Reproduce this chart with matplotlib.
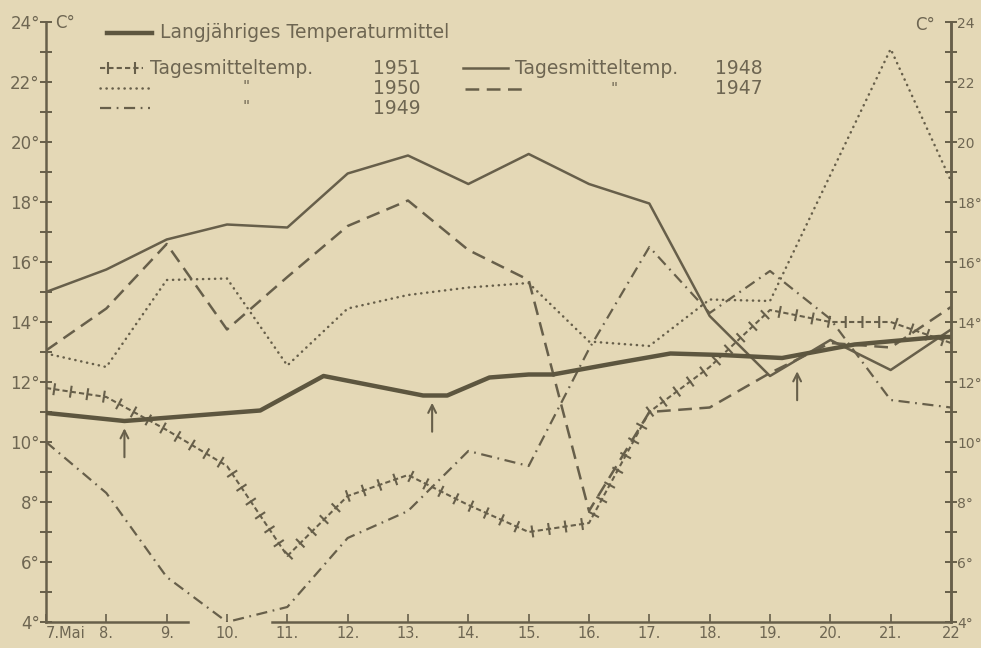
import matplotlib.pyplot as plt
import matplotlib.patheffects as pe
from matplotlib.lines import Line2D

# Tagesmitteltemperaturen 7. - 22. Mai
days = list(range(7, 23))
day_labels = ["7.Mai", "8.", "9.", "10.", "11.", "12.", "13.", "14.", "15.",
              "16.", "17.", "18.", "19.", "20.", "21.", "22"]

temp_1951 = [11.8, 11.5, 10.4, 9.2, 6.2, 8.2, 8.9, 7.9, 7.0, 7.3, 11.0, 12.5, 14.4, 14.0, 14.0, 13.3]
temp_1950 = [12.95, 12.5, 15.4, 15.45, 12.55, 14.45, 14.9, 15.15, 15.3, 13.35, 13.2, 14.75, 14.7, 18.9, 23.1, 18.7]
temp_1949 = [10.0, 8.3, 5.5, 4.0, 4.5, 6.8, 7.7, 9.7, 9.2, 13.1, 16.5, 14.3, 15.7, 14.1, 11.4, 11.15]
temp_1948 = [15.0, 15.75, 16.75, 17.25, 17.15, 18.95, 19.55, 18.6, 19.6, 18.6, 17.95, 14.2, 12.2, 13.4, 12.4, 13.75]
temp_1947 = [13.05, 14.45, 16.6, 13.75, 15.5, 17.2, 18.05, 16.4, 15.4, 7.7, 11.0, 11.15, 12.3, 13.3, 13.15, 14.5]

# long-term mean, read at its own break points
mean_days = [7.0, 8.3, 10.55, 11.6, 13.25, 13.65, 14.35, 15.0, 15.4, 16.5, 17.35, 18.2, 19.2, 20.4, 21.8, 22.0]
mean_temp = [10.97, 10.7, 11.05, 12.2, 11.55, 11.55, 12.15, 12.25, 12.25, 12.65, 12.95, 12.9, 12.8, 13.25, 13.5, 13.5]

# arrows below the mean curve
arrow_days = [8.3, 13.4, 19.45]
arrow_tips = [10.55, 11.4, 12.45]

paper = "#e4d8b6"
ink = "#675f4a"
text_ink = "#6e6652"

plt.rcParams["font.family"] = ["DejaVu Sans"]

fig = plt.figure(figsize=(9.81, 6.48), dpi=100)
fig.patch.set_facecolor(paper)
ax = fig.add_axes([46 / 981, 1 - 622 / 648, 905 / 981, 600 / 648])
ax.set_facecolor(paper)

# "+++" line: ticks on both sides of a dotted line give little crosses
solid = {"dash_offset": 0, "dash_list": None}
cross = [pe.TickedStroke(spacing=12, angle=90, length=0.36, linewidth=1.5, dashes=solid),
         pe.TickedStroke(spacing=12, angle=-90, length=0.36, linewidth=1.5, dashes=solid),
         pe.Normal()]

ax.plot(mean_days, mean_temp, color="#5d563f", lw=3.2, solid_joinstyle="round", zorder=5)
ax.plot(days, temp_1948, color=ink, lw=1.8)
ax.plot(days, temp_1947, color=ink, lw=1.8, ls=(0, (5.5, 3)))
ax.plot(days, temp_1950, color=ink, lw=1.8, ls=(0, (0.1, 2.3)), dash_capstyle="round")
ax.plot(days, temp_1949, color=ink, lw=1.6, ls=(0, (5, 2.5, 0.8, 2.5)))
ax.plot(days, temp_1951, color=ink, lw=1.5, ls=(0, (2.5, 1.5)), path_effects=cross)

for d, t in zip(arrow_days, arrow_tips):
    ax.annotate("", xy=(d, t), xytext=(d, t - 1.15),
                arrowprops=dict(arrowstyle="->", color=ink, lw=1.5, mutation_scale=14))

ax.set_xlim(7, 22)
ax.set_ylim(4, 24)

# axes in the hand-drawn style
for side in ["top", "bottom"]:
    ax.spines[side].set_visible(False)
for side in ["left", "right"]:
    ax.spines[side].set_color(ink)
    ax.spines[side].set_linewidth(1.8)
ax.axhline(4, xmin=0, xmax=(9.35 - 7) / 15, color=ink, lw=1.8, clip_on=False)
ax.axhline(4, xmin=(10.75 - 7) / 15, xmax=1, color=ink, lw=1.8, clip_on=False)

ax.set_xticks(days)
ax.set_xticklabels(day_labels)
ax.tick_params(axis="x", direction="in", length=6, width=1.2, color=ink,
               labelsize=10.5, labelcolor=text_ink, pad=3)
first = ax.get_xticklabels()[0]
first.set_ha("left")

ax.set_yticks(range(4, 25, 2))
ax.set_yticks(range(5, 24, 2), minor=True)
ax.set_yticklabels([f"{v}°" for v in range(4, 25, 2)])
ax.tick_params(axis="y", which="both", direction="inout", length=9, width=1.4,
               color=ink, labelsize=12, labelcolor=text_ink, pad=0)

ax2 = ax.twinx()
ax2.set_ylim(4, 24)
for side in ["top", "bottom", "left"]:
    ax2.spines[side].set_visible(False)
ax2.spines["right"].set_color(ink)
ax2.spines["right"].set_linewidth(1.8)
ax2.set_yticks(range(4, 25, 2))
ax2.set_yticks(range(5, 24, 2), minor=True)
ax2.set_yticklabels([f"{v}" if v >= 20 else f"{v}°" for v in range(4, 25, 2)])
ax2.tick_params(axis="y", which="both", direction="inout", length=9, width=1.4,
                color=ink, labelsize=10, labelcolor=text_ink, pad=0)

# legend and unit labels drawn in pixel coordinates
lg = fig.add_axes([0, 0, 1, 1], facecolor="none")
lg.set_xlim(0, 981)
lg.set_ylim(648, 0)
lg.axis("off")

fs = 13.5
lg.text(55, 23, "C°", fontsize=12, color=text_ink, va="center")
lg.text(915, 25, "C°", fontsize=12, color=text_ink, va="center")

lg.add_line(Line2D([107, 152], [33, 33], color="#5d563f", lw=3.2))
lg.text(160, 33, "Langjähriges Temperaturmittel", fontsize=fs, color=text_ink, va="center")

lg.add_line(Line2D([100, 143], [68, 68], color=ink, lw=1.5, ls=(0, (2.5, 1.5)), path_effects=cross))
lg.text(150, 68, "Tagesmitteltemp.", fontsize=fs, color=text_ink, va="center")
lg.text(373, 68, "1951", fontsize=fs, color=text_ink, va="center")

lg.add_line(Line2D([463, 508], [68, 68], color=ink, lw=1.8))
lg.text(515, 68, "Tagesmitteltemp.", fontsize=fs, color=text_ink, va="center")
lg.text(715, 68, "1948", fontsize=fs, color=text_ink, va="center")

lg.add_line(Line2D([100, 150], [88, 88], color=ink, lw=1.8, ls=(0, (0.1, 2.3)), dash_capstyle="round"))
lg.text(243, 88, '"', fontsize=11, color=text_ink, va="center")
lg.text(373, 88, "1950", fontsize=fs, color=text_ink, va="center")

lg.add_line(Line2D([465, 522], [89, 89], color=ink, lw=1.8, ls=(0, (5.5, 3))))
lg.text(610, 89, '"', fontsize=11, color=text_ink, va="center")
lg.text(715, 89, "1947", fontsize=fs, color=text_ink, va="center")

lg.add_line(Line2D([100, 150], [108, 108], color=ink, lw=1.6, ls=(0, (5, 2.5, 0.8, 2.5))))
lg.text(243, 108, '"', fontsize=11, color=text_ink, va="center")
lg.text(373, 108, "1949", fontsize=fs, color=text_ink, va="center")

fig.savefig("out.png", dpi=100, facecolor=paper)
